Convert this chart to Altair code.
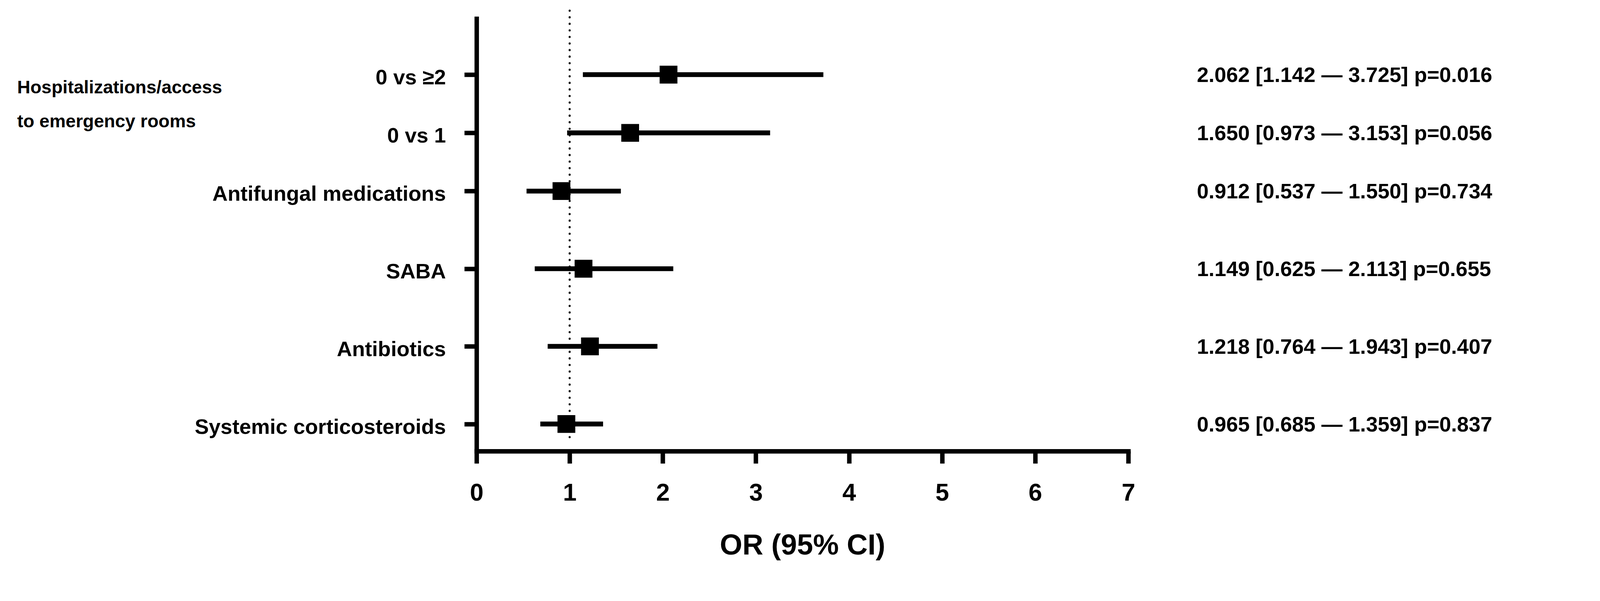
import altair as alt
import pandas as pd

# ---------------- data ----------------
labels = ["0 vs ≥2", "0 vs 1", "Antifungal medications", "SABA",
          "Antibiotics", "Systemic corticosteroids"]
rows = [3, 6, 9, 13, 17, 21]          # row slots of the forest plot (top to bottom)
odds = [2.062, 1.650, 0.912, 1.149, 1.218, 0.965]
ci_low = [1.142, 0.973, 0.537, 0.625, 0.764, 0.685]
ci_high = [3.725, 3.153, 1.550, 2.113, 1.943, 1.359]
p_values = [0.016, 0.056, 0.734, 0.655, 0.407, 0.837]

group_name = "Hospitalizations/access\nto emergency rooms"
group_members = ["0 vs ≥2", "0 vs 1"]

x_ticks = [0, 1, 2, 3, 4, 5, 6, 7]
x_title = "OR (95% CI)"
null_or = 1
row_domain = [0, 22.4]
ref_line_rows = [-0.3, 21.9]

FONT = "Liberation Sans"

df = pd.DataFrame({
    "label": labels, "row": rows, "or": odds,
    "lo": ci_low, "hi": ci_high, "p": p_values,
})
df["annot"] = [f"{o:.3f} [{l:.3f} — {h:.3f}]  p={p:.3f}"
               for o, l, h, p in zip(odds, ci_low, ci_high, p_values)]

grp = pd.DataFrame({
    "group": [group_name],
    "row": [min(r for r, lab in zip(rows, labels) if lab in group_members)],
})

ref = pd.DataFrame({"x": [null_or], "y0": [ref_line_rows[0]], "y1": [ref_line_rows[1]]})

label_expr = "".join(f"datum.value == {r} ? '{lab}' : " for r, lab in zip(rows, labels)) + "''"

xscale = alt.Scale(domain=[x_ticks[0], x_ticks[-1]], nice=False, zero=True)
yscale = alt.Scale(domain=row_domain, reverse=True, nice=False, zero=False)

xaxis = alt.Axis(values=x_ticks, title=x_title, format="d",
                 domainWidth=12, domainCap="square", tickWidth=12, tickSize=33,
                 labelFontSize=66, labelPadding=48, labelFlush=False,
                 titleFontSize=78, titleY=278, titleBaseline="alphabetic")
yaxis = alt.Axis(values=rows, labelExpr=label_expr, title=None,
                 domainWidth=12, tickWidth=12, tickSize=33,
                 labelFontSize=57, labelPadding=50, labelOffset=9,
                 labelLimit=2000, labelFlush=False)


def X(field):
    return alt.X(field, type="quantitative", scale=xscale, axis=xaxis)


def Y(field):
    return alt.Y(field, type="quantitative", scale=yscale, axis=yaxis)


ref_line = alt.Chart(ref).mark_rule(
    color="black", strokeWidth=5.5, strokeDash=[0.5, 17.2], strokeCap="round"
).encode(x=X("x"), y=Y("y0"), y2="y1")

bars = alt.Chart(df).mark_rule(color="black", strokeWidth=13).encode(
    x=X("lo"), x2="hi", y=Y("row")
)

points = alt.Chart(df).mark_square(
    color="black", size=48 * 48, opacity=1, filled=True
).encode(x=X("or"), y=Y("row"))

annot = alt.Chart(df).mark_text(
    align="left", baseline="middle", dy=3, fontSize=57, fontWeight="bold",
    font=FONT, color="black"
).encode(x=alt.value(1943), y=Y("row"), text="annot:N")

group_text = alt.Chart(grp).mark_text(
    align="left", baseline="alphabetic", dy=50, fontSize=49, fontWeight="bold",
    font=FONT, color="black", lineBreak="\n", lineHeight=92
).encode(x=alt.value(-1239), y=Y("row"), text="group:N")

chart = alt.layer(ref_line, bars, points, annot, group_text).properties(
    width=1758, height=1173,
    autosize=alt.AutoSizeParams(type="none"),
    padding={"left": 1277, "top": -5, "right": 1264, "bottom": 355},
    background="white",
).configure_view(stroke=None).configure_axis(
    grid=False, domainColor="black", tickColor="black",
    labelColor="black", titleColor="black",
    labelFont=FONT, titleFont=FONT,
    labelFontWeight="bold", titleFontWeight="bold",
)

chart.save("out.html", embed_options={"renderer": "svg", "actions": False})
